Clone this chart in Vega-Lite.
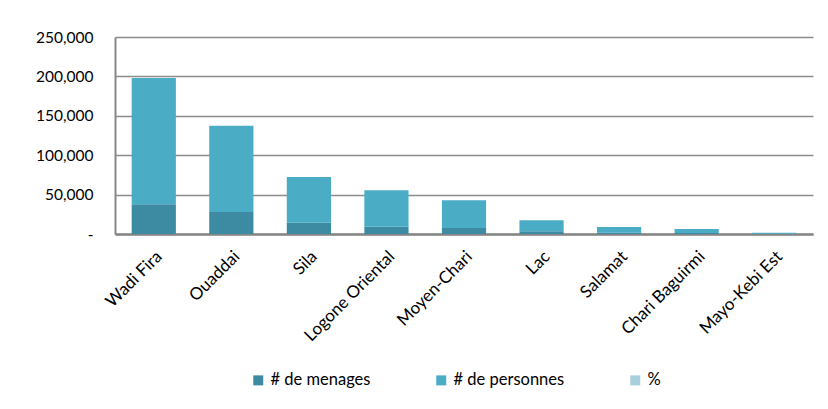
{
  "$schema": "https://vega.github.io/schema/vega-lite/v6.json",
  "width": 698,
  "height": 197,
  "autosize": {"type": "none"},
  "padding": {"left": 115, "top": 37, "right": 15, "bottom": 175},
  "background": "white",
  "config": {"view": {"stroke": null}, "font": "Lato"},
  "data": {
    "values": [
      {"region": "Wadi Fira", "series": "# de menages", "value": 37700},
      {"region": "Wadi Fira", "series": "# de personnes", "value": 160300},
      {"region": "Wadi Fira", "series": "%", "value": 36},
      {"region": "Ouaddai", "series": "# de menages", "value": 27900},
      {"region": "Ouaddai", "series": "# de personnes", "value": 109500},
      {"region": "Ouaddai", "series": "%", "value": 27},
      {"region": "Sila", "series": "# de menages", "value": 14300},
      {"region": "Sila", "series": "# de personnes", "value": 58000},
      {"region": "Sila", "series": "%", "value": 14},
      {"region": "Logone Oriental", "series": "# de menages", "value": 9300},
      {"region": "Logone Oriental", "series": "# de personnes", "value": 46200},
      {"region": "Logone Oriental", "series": "%", "value": 9},
      {"region": "Moyen-Chari", "series": "# de menages", "value": 7600},
      {"region": "Moyen-Chari", "series": "# de personnes", "value": 35200},
      {"region": "Moyen-Chari", "series": "%", "value": 7},
      {"region": "Lac", "series": "# de menages", "value": 3400},
      {"region": "Lac", "series": "# de personnes", "value": 13900},
      {"region": "Lac", "series": "%", "value": 3},
      {"region": "Salamat", "series": "# de menages", "value": 1700},
      {"region": "Salamat", "series": "# de personnes", "value": 7200},
      {"region": "Salamat", "series": "%", "value": 2},
      {"region": "Chari Baguirmi", "series": "# de menages", "value": 1200},
      {"region": "Chari Baguirmi", "series": "# de personnes", "value": 5100},
      {"region": "Chari Baguirmi", "series": "%", "value": 1},
      {"region": "Mayo-Kebi Est", "series": "# de menages", "value": 300},
      {"region": "Mayo-Kebi Est", "series": "# de personnes", "value": 1300},
      {"region": "Mayo-Kebi Est", "series": "%", "value": 0.3}
    ]
  },
  "mark": {"type": "bar"},
  "encoding": {
    "x": {
      "field": "region",
      "type": "nominal",
      "sort": ["Wadi Fira", "Ouaddai", "Sila", "Logone Oriental", "Moyen-Chari", "Lac", "Salamat", "Chari Baguirmi", "Mayo-Kebi Est"],
      "scale": {"paddingInner": 0.43, "paddingOuter": 0.215},
      "axis": {
        "title": null,
        "labelAngle": -45,
        "labelFontSize": 17,
        "labelColor": "#000000",
        "ticks": false,
        "domainColor": "#868686",
        "domainWidth": 2.5,
        "labelPadding": 14
      }
    },
    "y": {
      "field": "value",
      "type": "quantitative",
      "stack": "zero",
      "scale": {"domain": [0, 250000]},
      "axis": {
        "title": null,
        "values": [0, 50000, 100000, 150000, 200000, 250000],
        "labelExpr": "datum.value === 0 ? '-' : format(datum.value, ',')",
        "grid": true,
        "gridColor": "#8C8C8C",
        "gridWidth": 1.5,
        "ticks": false,
        "labelPadding": 22,
        "labelFontSize": 15.5,
        "labelColor": "#000000",
        "domainColor": "#868686",
        "domainWidth": 2
      }
    },
    "order": {"field": "series", "sort": "ascending"},
    "color": {
      "field": "series",
      "type": "nominal",
      "scale": {
        "domain": ["# de menages", "# de personnes", "%"],
        "range": ["#3C8BA2", "#4BACC6", "#A8CFDD"]
      },
      "legend": {
        "orient": "none",
        "legendX": 135,
        "legendY": 335,
        "direction": "horizontal",
        "title": null,
        "symbolType": "square",
        "symbolSize": 100,
        "symbolStrokeWidth": 0,
        "labelFontSize": 16.5,
        "labelColor": "#000000",
        "columnPadding": 62
      }
    }
  }
}
